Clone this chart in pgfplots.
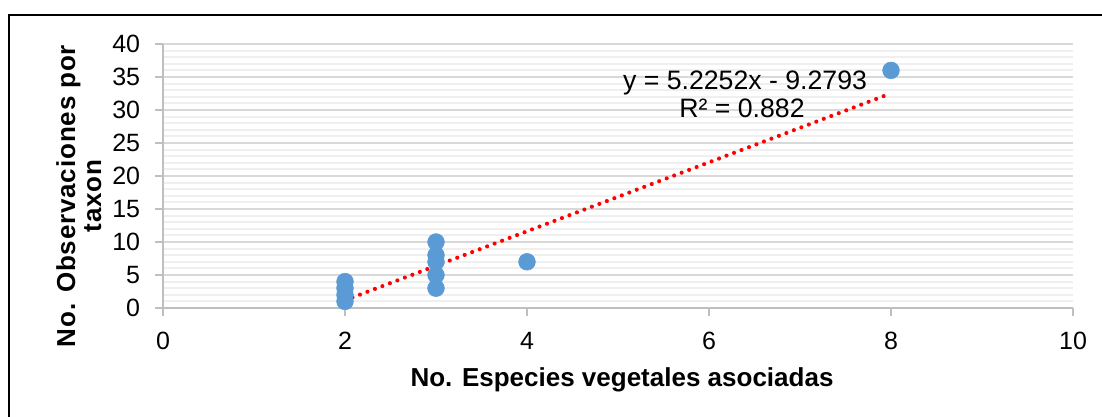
\documentclass[border=0pt]{standalone}
\usepackage{fontspec}
\setmainfont{Liberation Sans}
\newfontfamily\ylabfont[LetterSpace=3.2]{Liberation Sans}
\usepackage{pgfplots}
\pgfplotsset{compat=1.18}
\definecolor{ptblue}{HTML}{5B9BD5}
\definecolor{majgrid}{HTML}{D9D9D9}
\definecolor{mingrid}{HTML}{EFEFEF}
\definecolor{axgray}{HTML}{BFBFBF}
\begin{document}
\begin{tikzpicture}
\useasboundingbox (0,0) rectangle (826.5pt,312.75pt);
\draw[line width=1.5pt,black] (6.75pt,-2pt) -- (6.75pt,301.5pt) -- (830pt,301.5pt);
\begin{axis}[
  at={(122.25pt,81.75pt)}, anchor=south west,
  scale only axis, width=682.5pt, height=198pt,
  xmin=0, xmax=10, ymin=0, ymax=40,
  xtick={0,2,4,6,8,10}, ytick={0,5,...,40},
  minor y tick num=4,
  ymajorgrids, yminorgrids,
  major grid style={majgrid, line width=1.5pt},
  minor grid style={mingrid, line width=1.5pt},
  axis x line*=bottom, axis y line*=left,
  axis line style={axgray, line width=1.5pt, -},
  tick align=outside,
  major tick length=6pt, minor tick length=0pt,
  tick style={axgray, line width=1.5pt},
  /pgf/number format/assume math mode=true,
  tick label style={font=\fontsize{18.75}{18.75}\selectfont, black},
  xticklabel style={anchor=north, inner sep=0pt, yshift=-12pt},
  yticklabel style={anchor=east, inner sep=0pt, xshift=-11pt},
  xlabel={No. Especies vegetales asociadas},
  xlabel style={font=\bfseries\fontsize{19.5}{19.5}\selectfont, at={(rel axis cs:0.5044,-0.299)}, anchor=base},
  ylabel={No. Observaciones por\\taxon},
  ylabel style={font=\ylabfont\bfseries\fontsize{19.5}{19.5}\selectfont, align=center, at={(rel axis cs:-0.0925,0.424)}, anchor=center},
  clip=false,
]
\addplot[only marks, mark=*, mark size=6.3pt, mark options={fill=ptblue, draw=ptblue}] coordinates {
  (2,1) (2,2) (2,3) (2,4)
  (3,3) (3,5) (3,7) (3,8) (3,10)
  (4,7) (8,36)
};
\addplot[red, line width=3.1pt, line cap=round, dash pattern=on 0pt off 6pt] coordinates {
  (2,1.1711) (8,32.5223)
};
\node[anchor=base, font=\fontsize{20}{20}\selectfont, inner sep=0pt] at (axis cs:6.396,33.18) {y = 5.2252x - 9.2793};
\node[anchor=base, font=\fontsize{20}{20}\selectfont, inner sep=0pt] at (axis cs:6.363,28.79) {R² = 0.882};
\end{axis}
\end{tikzpicture}
\end{document}
